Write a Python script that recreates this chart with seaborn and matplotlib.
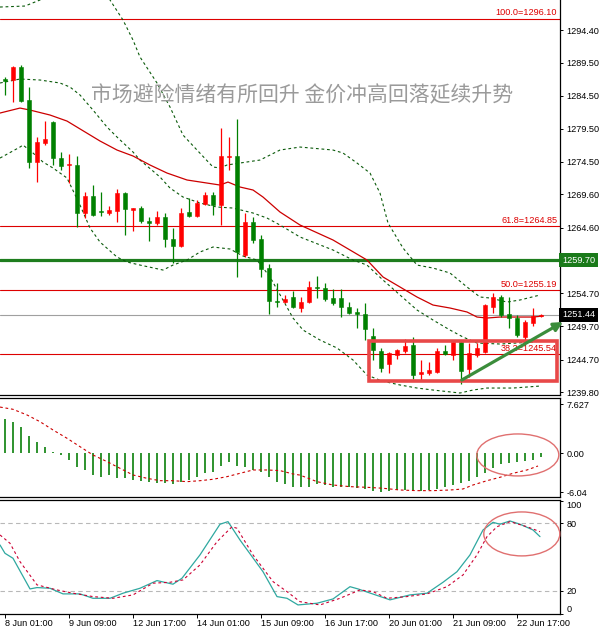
import numpy as np
import pandas as pd
import matplotlib
matplotlib.use("Agg")
import matplotlib.pyplot as plt
import seaborn as sns
from matplotlib.patches import Rectangle, Ellipse

# ---------------- data ----------------
bar_idx = list(range(68))
opens = [1287.0, 1286.9, 1288.8, 1283.8, 1274.5, 1277.4, 1280.5, 1275.1, 1274.0, 1274.0,
         1266.8, 1269.4, 1267.1, 1266.8, 1267.1, 1269.8, 1267.3, 1267.6, 1265.6, 1265.3,
         1266.2, 1262.9, 1261.8, 1266.9, 1266.3, 1268.2, 1269.5, 1268.0, 1275.2, 1275.4,
         1260.5, 1265.4, 1262.9, 1258.5, 1253.5, 1253.4, 1254.1, 1252.5, 1253.4, 1255.6,
         1255.5, 1254.0, 1254.0, 1252.6, 1251.9, 1251.6, 1248.2, 1246.0, 1244.0, 1245.4,
         1246.0, 1246.9, 1242.5, 1242.7, 1242.8, 1246.0, 1245.4, 1247.4, 1243.3, 1245.4,
         1245.8, 1252.6, 1254.1, 1251.6, 1251.0, 1248.1, 1250.2, 1251.3]
highs = [1287.3, 1289.0, 1289.1, 1285.8, 1278.3, 1280.7, 1280.7, 1276.0, 1275.7, 1275.4,
         1270.0, 1271.0, 1270.0, 1267.9, 1270.4, 1269.9, 1267.6, 1267.9, 1266.2, 1267.1,
         1266.8, 1264.5, 1267.6, 1269.1, 1268.8, 1270.0, 1270.0, 1279.6, 1278.3, 1281.0,
         1266.8, 1266.2, 1263.5, 1259.1, 1256.2, 1254.4, 1255.0, 1254.1, 1256.5, 1257.3,
         1256.2, 1255.3, 1255.3, 1253.4, 1252.5, 1253.2, 1249.5, 1246.4, 1245.8, 1246.3,
         1247.8, 1248.1, 1244.6, 1244.3, 1246.4, 1246.9, 1247.6, 1247.6, 1247.2, 1247.2,
         1253.1, 1254.7, 1254.4, 1254.1, 1251.4, 1250.7, 1252.5, 1251.6]
lows = [1284.6, 1283.5, 1283.6, 1273.6, 1271.5, 1277.1, 1274.0, 1273.3, 1271.3, 1264.7,
        1266.0, 1266.3, 1266.3, 1266.5, 1265.4, 1263.5, 1264.1, 1265.3, 1262.6, 1265.0,
        1261.7, 1259.3, 1261.7, 1266.2, 1266.2, 1268.0, 1266.5, 1265.0, 1273.3, 1257.1,
        1260.2, 1262.3, 1257.1, 1251.6, 1252.6, 1253.2, 1252.5, 1251.9, 1253.2, 1254.0,
        1253.5, 1252.9, 1251.1, 1251.6, 1249.5, 1247.6, 1244.6, 1242.8, 1242.7, 1244.8,
        1245.7, 1241.8, 1241.6, 1242.4, 1242.7, 1245.4, 1244.6, 1241.0, 1242.1, 1245.1,
        1245.7, 1251.7, 1251.1, 1249.5, 1248.1, 1247.2, 1249.8, 1251.1]
closes = [1286.7, 1288.8, 1283.7, 1274.5, 1277.5, 1278.0, 1275.1, 1273.9, 1274.2, 1266.8,
          1269.4, 1266.5, 1266.9, 1267.3, 1269.8, 1267.4, 1267.6, 1265.6, 1265.3, 1266.2,
          1262.9, 1261.8, 1266.8, 1266.3, 1268.3, 1269.5, 1268.0, 1275.4, 1275.4, 1260.9,
          1265.4, 1262.7, 1258.4, 1253.5, 1253.4, 1253.8, 1252.6, 1253.4, 1255.6, 1255.5,
          1253.8, 1253.2, 1252.6, 1251.7, 1251.6, 1249.3, 1246.1, 1243.4, 1245.7, 1246.1,
          1246.7, 1242.4, 1242.8, 1243.1, 1246.0, 1245.5, 1247.4, 1242.9, 1245.7, 1246.4,
          1252.9, 1254.1, 1251.4, 1251.0, 1248.4, 1250.4, 1251.3, 1251.44]

# moving average (solid red) -- sampled along the bar axis
ma_x = [-0.625, 1.875, 3.125, 5.625, 7.75, 11.875, 14.0, 16.0, 18.125, 20.25, 22.75, 25.25,
        26.875, 27.875, 29.375, 31.0, 32.25, 34.375, 36.875, 41.0, 45.25, 47.25, 49.375,
        51.5, 53.5, 55.625, 57.75, 59.0, 60.25, 61.875, 66.0, 67.25]
ma_y = [1281.88, 1282.63, 1282.33, 1281.58, 1280.67, 1277.66, 1276.30, 1275.40, 1274.04,
        1272.83, 1271.78, 1271.32, 1271.02, 1271.47, 1270.72, 1270.27, 1269.21, 1266.95,
        1264.99, 1262.73, 1259.71, 1257.15, 1255.64, 1254.13, 1252.92, 1252.47, 1251.87,
        1251.11, 1250.96, 1251.11, 1251.11, 1251.26]

# Bollinger bands (dotted dark green)
bb_up_x = [-0.625, 2.5, 4.375, 5.0, 6.875, 9.375, 11.875, 13.125, 14.75, 16.0, 16.875, 19.0,
           20.625, 22.25, 24.0, 26.0, 26.875, 27.75, 29.375, 31.875, 34.375, 36.875, 41.0,
           42.25, 44.0, 45.625, 46.875, 47.875, 49.75, 51.5, 53.5, 55.625, 57.75, 59.375,
           60.625, 62.75, 64.375, 66.875]
bb_up_y = [1297.87, 1298.02, 1298.93, 1300.13, 1301.94, 1302.70, 1301.19, 1298.93, 1295.91,
           1292.89, 1290.33, 1286.41, 1282.79, 1278.56, 1276.30, 1273.74, 1273.59, 1274.04,
           1274.34, 1274.79, 1276.30, 1276.75, 1276.30, 1275.85, 1274.34, 1272.83, 1269.81,
           1265.29, 1261.52, 1258.95, 1258.50, 1257.75, 1255.64, 1254.13, 1253.98, 1253.37,
           1253.68, 1254.43]
bb_mid_x = [-0.625, 1.875, 4.375, 6.875, 8.125, 9.375, 11.0, 12.75, 14.0, 16.0, 16.875, 19.375,
            20.625, 22.25, 24.375, 26.5, 28.5, 31.0, 32.75, 34.375, 36.875, 41.0, 43.5, 45.25,
            47.25, 49.375, 51.5, 53.5, 55.625, 57.25, 59.0, 61.875, 66.0, 66.875]
bb_mid_y = [1286.41, 1287.01, 1286.86, 1286.41, 1285.80, 1284.60, 1282.33, 1279.77, 1278.26,
            1276.00, 1274.79, 1272.23, 1270.57, 1269.21, 1268.31, 1267.70, 1267.55, 1266.80,
            1266.04, 1264.99, 1263.18, 1261.22, 1259.71, 1258.95, 1256.69, 1254.43, 1252.17,
            1250.66, 1249.15, 1248.10, 1247.19, 1247.04, 1247.34, 1247.49]
bb_low_x = [-0.625, 1.875, 2.25, 3.5, 4.75, 6.0, 7.75, 9.375, 10.625, 11.875, 14.0, 15.25,
            16.875, 19.75, 21.0, 22.75, 24.375, 26.0, 28.125, 29.75, 31.5, 33.125, 34.75,
            36.0, 37.25, 39.375, 41.5, 43.5, 45.25, 47.125, 49.375, 51.5, 53.5, 56.875,
            58.5, 60.25, 63.5, 66.875]
bb_low_y = [1275.09, 1276.75, 1277.05, 1275.85, 1274.49, 1273.59, 1272.08, 1268.00, 1264.54,
            1262.42, 1260.16, 1259.41, 1258.95, 1258.20, 1258.95, 1259.71, 1260.92, 1261.67,
            1261.37, 1260.31, 1259.71, 1257.15, 1253.68, 1250.96, 1249.15, 1247.64, 1246.44,
            1244.63, 1242.36, 1241.46, 1240.86, 1240.40, 1240.10, 1239.65, 1240.10, 1240.40,
            1240.40, 1240.70]

fib_names = ["100.0", "61.8", "50.0", "38.2"]
fib_prices = [1296.10, 1264.85, 1255.19, 1245.54]
support_price = 1259.70
last_price = 1251.44
price_ticks = [1294.40, 1289.50, 1284.50, 1279.50, 1274.50, 1269.60, 1264.60,
               1254.70, 1249.70, 1244.70, 1239.80]

# MACD panel
macd_hist = [5.3, 4.9, 4.1, 2.7, 1.8, 0.93, 0.25, -0.27, -1.04, -2.08, -2.6, -3.38, -3.74,
             -3.38, -3.9, -3.9, -4.16, -4.27, -4.42, -4.57, -4.68, -4.78, -4.42, -4.16,
             -3.74, -3.12, -2.86, -1.98, -1.3, -1.98, -2.18, -2.6, -2.86, -3.74, -4.42,
             -4.78, -5.2, -5.3, -5.2, -4.78, -4.94, -5.2, -5.2, -5.3, -5.45, -5.6, -5.82,
             -5.98, -5.82, -5.72, -5.72, -5.82, -5.82, -5.72, -5.6, -5.2, -4.94, -4.57,
             -4.27, -3.74, -3.07, -2.24, -1.71, -1.51, -1.35, -1.2, -0.99, -0.57]
macd_sig_x = [-0.625, 1.0, 2.75, 4.375, 6.0, 7.75, 9.375, 11.0, 12.75, 14.375, 16.0, 17.75,
              19.375, 21.0, 22.75, 24.375, 26.0, 27.75, 29.375, 31.0, 32.75, 34.375, 36.0,
              36.875, 39.0, 41.0, 43.125, 45.25, 47.25, 49.375, 51.5, 53.5, 55.625, 57.25,
              58.5, 60.25, 61.875, 63.5, 65.25, 66.625]
macd_sig_y = [7.2, 6.85, 5.97, 4.92, 3.63, 2.34, 1.03, -0.27, -1.3, -2.34, -3.38, -3.9, -4.27,
              -4.27, -4.42, -4.27, -4.05, -3.64, -3.12, -2.6, -2.6, -2.7, -3.22, -3.4, -4.42,
              -4.94, -5.2, -5.3, -5.45, -5.72, -5.82, -5.82, -5.72, -5.56, -4.94, -4.27,
              -3.74, -3.12, -2.6, -1.98]
macd_ticks = [7.627, 0.0, -6.04]
macd_labels = ["7.627", "0.00", "-6.04"]

# Stochastic panel
stoch_k_x = [-0.625, 0, 1, 3.125, 4, 5.625, 7.25, 9.375, 11, 13.125, 14.75, 16.875, 19, 21,
             22.125, 24.375, 26.875, 27.875, 29.375, 32.25, 34, 35.25, 36.625, 39, 41,
             43.125, 44.125, 48.125, 50.625, 52.75, 54.75, 56.5, 58.125, 59.75, 61, 61.875,
             63.125, 64.375, 66, 66.875]
stoch_k_y = [60.8, 53.4, 49, 21.8, 23, 22.4, 17.4, 17.4, 13.5, 13.5, 18, 22.4, 29.2, 26,
             31.3, 52, 79.2, 81.5, 65.2, 37.1, 15, 13.5, 7.6, 9.1, 12.9, 23.8, 21.8, 12.1,
             16.5, 18, 27.7, 37.1, 52, 74.1, 80.9, 79.2, 82.1, 79.2, 74.1, 68.2]
stoch_d_x = [-0.625, 0.625, 1.875, 4, 6.5, 8.5, 11, 13.5, 16, 18.5, 20.625, 22.25, 24.375,
             26.5, 28.375, 29, 31, 33.5, 35.25, 36.875, 39.375, 41.875, 44.375, 46, 47.75,
             50.25, 52.75, 55.25, 57.25, 59, 60.25, 61.5, 63.125, 65.25, 66.875]
stoch_d_y = [69.7, 62.3, 46, 25.4, 20.9, 18, 15, 13.5, 16.5, 26.9, 27.7, 29.8, 43.1, 63.7,
             77, 75.6, 52, 28.3, 19.4, 10.5, 7.6, 13.5, 20.9, 19.4, 13.5, 15, 17.4, 23.8,
             34.2, 52, 68.2, 77, 81.5, 77, 72.6]
stoch_levels = [80, 20]
stoch_ticks = [100, 80, 20, 0]

date_tick_idx = [0, 8, 16, 24, 32, 40, 48, 56, 64]
date_labels = ["8 Jun 01:00", "9 Jun 09:00", "12 Jun 17:00", "14 Jun 01:00", "15 Jun 09:00",
               "16 Jun 17:00", "20 Jun 01:00", "21 Jun 09:00", "22 Jun 17:00"]

title_text = "市场避险情绪有所回升 金价冲高回落延续升势"

# ---------------- styling ----------------
sns.set_theme(style="white")
plt.rcParams['font.family'] = ['Liberation Sans', 'DejaVu Sans']
plt.rcParams['axes.linewidth'] = 0.8

RED = "#ff0000"
GREEN = "#008000"
FIB_RED = "#dd0000"
LAB_FS = 6.6

W, H = 602, 633
fig = plt.figure(figsize=(W / 100, H / 100), dpi=100, facecolor="white")


def rect(top, bottom, left=0, right=560):
    return [left / W, 1 - bottom / H, (right - left) / W, (bottom - top) / H]


ax1 = fig.add_axes(rect(0, 395))
ax2 = fig.add_axes(rect(398, 497))
ax3 = fig.add_axes(rect(500, 613.5))

XLIM = (-0.625, 69.375)
for ax in (ax1, ax2, ax3):
    ax.set_facecolor("white")
    ax.set_xlim(*XLIM)
    for s in ("left",):
        ax.spines[s].set_visible(False)
    for s in ("right", "top", "bottom"):
        ax.spines[s].set_color("black")
        ax.spines[s].set_linewidth(0.9)
    ax.yaxis.tick_right()
    ax.tick_params(axis="y", left=False, labelleft=False, right=True, labelright=True,
                   direction="out", length=2.5, width=0.7, pad=2.2, labelsize=LAB_FS,
                   colors="black")
    ax.tick_params(axis="x", bottom=False, labelbottom=False)
ax1.spines["top"].set_visible(False)

# ---------------- main price panel ----------------
ax1.set_ylim(1239.35, 1298.93)

for p in fib_prices:
    ax1.axhline(p, color=FIB_RED, lw=0.8, zorder=1)
ax1.axhline(support_price, color="#1e7d1e", lw=2.3, zorder=1)
ax1.axhline(last_price, color="#a0a0a0", lw=0.8, zorder=1)

dot = (0, (2.5, 2.5))
for xs, ys in ((bb_up_x, bb_up_y), (bb_mid_x, bb_mid_y), (bb_low_x, bb_low_y)):
    sns.lineplot(x=xs, y=ys, ax=ax1, color="#0a5a0a", lw=0.8, linestyle=dot,
                 estimator=None, sort=False, zorder=2)
sns.lineplot(x=ma_x, y=ma_y, ax=ax1, color="#cc0000", lw=0.9, estimator=None, sort=False,
             zorder=2)

df = pd.DataFrame({"i": bar_idx, "o": opens, "h": highs, "l": lows, "c": closes})
up = df["c"] >= df["o"]
cols = np.where(up, RED, GREEN)
ax1.vlines(df["i"], df["l"], df["h"], colors=cols, lw=0.9, zorder=4)
body_lo = np.minimum(df["o"], df["c"])
body_h = np.maximum((df["c"] - df["o"]).abs(), 0.15)
ax1.bar(df["i"], body_h, bottom=body_lo, width=0.62, color=cols, edgecolor=cols,
        linewidth=0.4, zorder=5)

# fib labels
for name, p in zip(fib_names, fib_prices):
    ax1.text(0.995, p + 0.2, f"{name}={p:.2f}", transform=ax1.get_yaxis_transform(),
             ha="right", va="bottom", color=FIB_RED, fontsize=LAB_FS, zorder=6)

# title
ax1.text(0.539, 0.7595, title_text, transform=ax1.transAxes, ha="center", va="center",
         fontsize=15, color="#9a9a9a", family=["Noto Sans CJK SC", "DejaVu Sans"], zorder=3)

# y ticks
ax1.set_yticks(price_ticks)
ax1.set_yticklabels([f"{v:.2f}" for v in price_ticks])

# price boxes
ax1.text(1.004, support_price, f"{support_price:.2f}", transform=ax1.get_yaxis_transform(),
         ha="left", va="center", color="white", fontsize=LAB_FS,
         bbox=dict(boxstyle="square,pad=0.3", fc="#1a7a1a", ec="none"), clip_on=False,
         zorder=10)
ax1.text(1.004, last_price, f"{last_price:.2f}", transform=ax1.get_yaxis_transform(),
         ha="left", va="center", color="white", fontsize=LAB_FS,
         bbox=dict(boxstyle="square,pad=0.3", fc="black", ec="none"), clip_on=False,
         zorder=10)

# annotation box and arrow
BOX_X0, BOX_X1, BOX_LO, BOX_HI = 45.5, 69.0, 1241.46, 1247.49
ax1.add_patch(Rectangle((BOX_X0, BOX_LO), BOX_X1 - BOX_X0, BOX_HI - BOX_LO, fill=False,
                        ec="#e84848", lw=2.6, zorder=7))
ax1.annotate("", xy=(69.75, 1250.36), xytext=(57.1, 1241.61),
             arrowprops=dict(arrowstyle="-|>", color="#3b8d3b", lw=2.3, mutation_scale=13,
                             shrinkA=0, shrinkB=0),
             annotation_clip=False, zorder=8)

# ---------------- MACD panel ----------------
ax2.set_ylim(-6.81, 8.61)
ax2.vlines(bar_idx, 0, macd_hist, colors="#0a800a", lw=1.2, zorder=3)
sns.lineplot(x=macd_sig_x, y=macd_sig_y, ax=ax2, color="#cc0000", lw=0.8, linestyle=dot,
             estimator=None, sort=False, zorder=4)
ax2.set_yticks(macd_ticks)
ax2.set_yticklabels(macd_labels)
ax2.add_patch(Ellipse((64.1, -0.26), 10.25, 6.54, fill=False, ec="#e07070", lw=1.0,
                      zorder=5, clip_on=False))

# ---------------- Stochastic panel ----------------
ax3.set_ylim(0.0, 100.7)
for lv in stoch_levels:
    ax3.axhline(lv, color="#b8b8b8", lw=0.8, linestyle=(0, (4, 3)), zorder=1)
sns.lineplot(x=stoch_k_x, y=stoch_k_y, ax=ax3, color="#2fa8a0", lw=0.9, estimator=None,
             sort=False, zorder=3)
sns.lineplot(x=stoch_d_x, y=stoch_d_y, ax=ax3, color="#cc0033", lw=0.8, linestyle=dot,
             estimator=None, sort=False, zorder=4)
ax3.set_yticks(stoch_ticks)
ax3.set_yticklabels([str(v) for v in stoch_ticks])
labs = ax3.get_yticklabels()
labs[0].set_va("top")
labs[-1].set_va("bottom")
ax3.add_patch(Ellipse((64.6, 70.6), 9.5, 39.0, fill=False, ec="#e07070", lw=1.0,
                      zorder=5, clip_on=False))

ax3.set_xticks(date_tick_idx)
ax3.set_xticklabels(date_labels)
ax3.tick_params(axis="x", bottom=True, labelbottom=True, direction="out", length=3,
                width=0.7, pad=1.0, labelsize=LAB_FS, colors="black")
for lab in ax3.get_xticklabels():
    lab.set_ha("left")

for ax in (ax1, ax2, ax3):
    ax.set_xlabel("")
    ax.set_ylabel("")
    leg = ax.get_legend()
    if leg is not None:
        leg.remove()
ax1.set_xticks([])
ax2.set_xticks([])

fig.savefig("out.png", dpi=100, facecolor="white")
